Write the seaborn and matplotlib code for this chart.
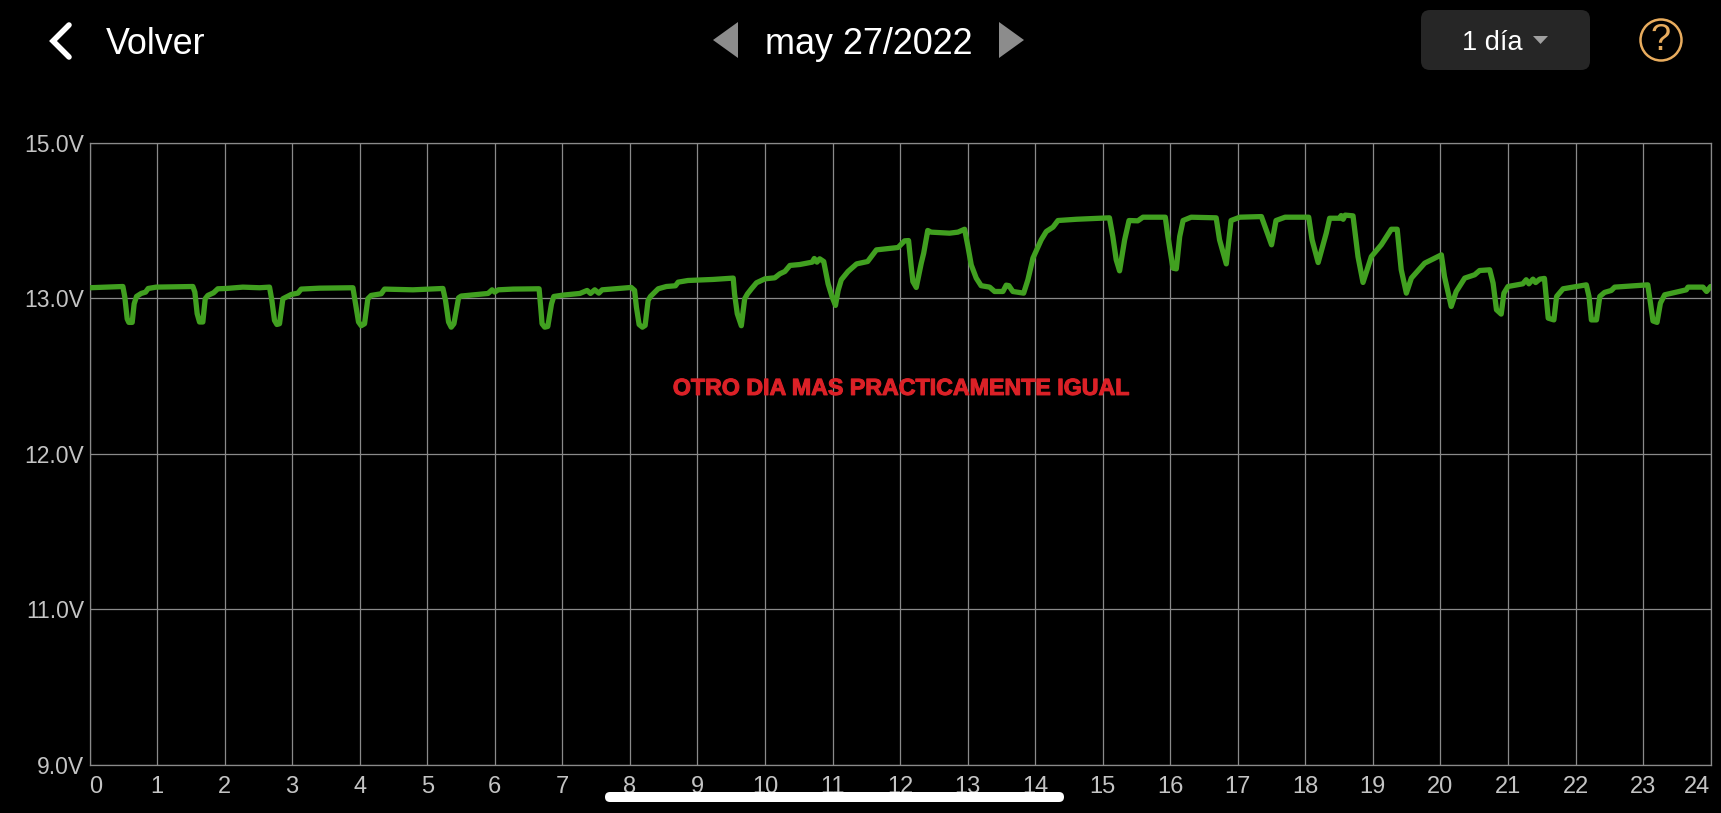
import matplotlib
matplotlib.use("Agg")
import matplotlib.pyplot as plt
from matplotlib.patches import FancyBboxPatch, Polygon, Circle
import matplotlib.patheffects as pe
import pandas as pd
import seaborn as sns

hours = [0,.494,.523,.558,.582,.632,.661,.696,.765,.83,.869,.987,1.283,1.53,1.56,1.594,1.629,1.678,1.713,1.752,1.836,1.90,2.024,2.27,2.517,2.665,2.70,2.739,2.774,2.813,2.863,2.986,3.085,3.134,3.406,3.90,3.939,3.983,4.023,4.072,4.121,4.17,4.319,4.368,4.788,5.232,5.271,5.316,5.355,5.395,5.464,5.503,
5.90,5.96,6.0,6.05,6.27,6.656,6.68,6.70,6.74,6.785,6.84,6.874,7.01,7.26,7.367,7.417,7.48,7.54,7.59,8.02,8.07,8.097,8.137,8.186,8.226,8.27,8.305,8.42,8.54,8.675,8.715,8.86,9.23,9.53,9.55,9.59,9.65,9.70,9.74,9.80,9.875,10.0,10.146,10.22,10.295,10.37,10.516,10.70,10.73,10.77,10.81,10.87,10.935,10.995,11.044,11.083,11.13,11.23,11.357,11.52,11.65,11.97,
12.067,12.126,12.165,12.19,12.24,12.314,12.35,12.41,12.46,12.733,12.857,12.956,13.005,13.054,13.128,13.2,13.326,13.40,13.523,13.572,13.612,13.67,13.83,13.893,13.967,14.09,14.165,14.264,14.338,14.61,15.10,15.15,15.20,15.25,15.325,15.39,15.52,15.596,15.927,15.966,16.04,16.09,16.14,16.19,16.31,16.68,16.73,16.83,16.90,17.03,17.35,17.50,17.566,17.70,
18.05,18.10,18.19,18.31,18.36,18.51,18.53,18.56,18.59,18.706,18.78,18.854,18.977,19.125,19.273,19.36,19.42,19.496,19.57,19.767,20.014,20.06,20.16,20.234,20.36,20.507,20.58,20.73,20.78,20.83,20.90,20.94,21.0,21.22,21.27,21.31,21.37,21.41,21.47,21.54,21.57,21.596,21.68,21.72,21.816,22.16,22.2,22.235,22.31,22.36,22.43,22.53,22.58,23.07,23.11,23.147,23.207,23.257,23.32,23.64,23.665,23.887,23.94,24.0]
volts = [13.60,13.612,13.51,13.30,13.266,13.266,13.445,13.516,13.545,13.558,13.593,13.606,13.609,13.612,13.558,13.35,13.27,13.27,13.494,13.526,13.551,13.59,13.593,13.606,13.60,13.606,13.478,13.285,13.246,13.253,13.494,13.535,13.548,13.587,13.596,13.60,13.445,13.27,13.234,13.253,13.494,13.526,13.542,13.587,13.58,13.593,13.478,13.27,13.22,13.253,13.503,13.52,
13.545,13.58,13.558,13.58,13.587,13.59,13.413,13.253,13.22,13.227,13.445,13.516,13.529,13.545,13.574,13.545,13.58,13.548,13.58,13.603,13.574,13.413,13.246,13.22,13.237,13.478,13.516,13.59,13.612,13.619,13.654,13.67,13.68,13.693,13.54,13.35,13.234,13.494,13.54,13.59,13.648,13.686,13.696,13.734,13.757,13.815,13.824,13.847,13.882,13.847,13.879,13.853,13.638,13.51,13.43,13.574,13.677,13.757,13.83,13.853,13.965,13.988,
14.052,14.055,13.805,13.66,13.603,13.837,13.933,14.152,14.136,14.126,14.136,14.164,13.998,13.82,13.693,13.62,13.606,13.564,13.564,13.625,13.62,13.564,13.548,13.677,13.885,14.062,14.142,14.184,14.248,14.26,14.274,14.094,13.87,13.763,14.062,14.248,14.245,14.28,14.28,14.094,13.789,13.782,14.094,14.248,14.28,14.274,14.062,13.83,14.248,14.28,14.286,14.014,14.248,14.28,
14.28,14.062,13.843,14.126,14.27,14.27,14.296,14.26,14.30,14.293,13.90,13.651,13.90,14.014,14.164,14.164,13.773,13.548,13.693,13.837,13.917,13.709,13.42,13.564,13.693,13.725,13.766,13.773,13.644,13.388,13.346,13.548,13.612,13.638,13.677,13.638,13.683,13.65,13.683,13.69,13.484,13.307,13.29,13.516,13.59,13.628,13.516,13.29,13.29,13.516,13.555,13.574,13.606,13.628,13.452,13.28,13.266,13.452,13.532,13.58,13.606,13.606,13.564,13.612]
hour_ticks = list(range(25))
volt_ticks = [15.0, 13.5, 12.0, 10.5, 9.0]
volt_labels = ["15.0V", "13.0V", "12.0V", "11.0V", "9.0V"]
annotation = "OTRO DIA MAS PRACTICAMENTE IGUAL"
date_label = "may 27/2022"

W, H = 1721, 813
sns.set_theme(style="dark")
plt.rcParams["font.family"] = ["Liberation Sans", "DejaVu Sans"]
fig = plt.figure(figsize=(W / 100, H / 100), dpi=100, facecolor="black")

L, R, T, B = 89.5, 1710.6, 142.5, 765
ax = fig.add_axes([L / W, 1 - B / H, (R - L) / W, (B - T) / H], facecolor="black")
df = pd.DataFrame({"hour": hours, "volt": volts})
sns.lineplot(data=df, x="hour", y="volt", ax=ax, estimator=None, sort=False,
             color="#41A020", linewidth=3.8, zorder=5, solid_joinstyle="round")
ax.set_xlim(0, 24)
ax.set_ylim(9, 15)
ax.set_xticks(hour_ticks)
ax.set_xticklabels([str(h) for h in hour_ticks])
ax.set_yticks(volt_ticks)
ax.set_yticklabels(volt_labels)
ax.set_xlabel("")
ax.set_ylabel("")
ax.grid(True, color="#8a8a8a", linewidth=0.9)
ax.set_axisbelow(True)
for s in ax.spines.values():
    s.set_color("#8a8a8a")
    s.set_linewidth(0.9)
ax.tick_params(axis="both", length=0, colors="#c4c4c4")
ax.tick_params(axis="x", labelsize=17, pad=8)
ax.tick_params(axis="y", labelsize=16.5, pad=4)
xl = ax.get_xticklabels()
xl[0].set_ha("left")
xl[-1].set_ha("right")
ax.text(12.0, 12.63, annotation, color="#DB2127", fontsize=16.7, fontweight="bold",
        ha="center", va="center", zorder=6,
        path_effects=[pe.withStroke(linewidth=0.8, foreground="#DB2127")])

# App chrome in pixel coordinates
ui = fig.add_axes([0, 0, 1, 1], facecolor="none")
ui.set_xlim(0, W)
ui.set_ylim(H, 0)
ui.axis("off")
ui.plot([69, 53, 69], [25, 41, 57], color="white", lw=4, solid_capstyle="round", solid_joinstyle="miter")
ui.text(106, 44, "Volver", color="white", fontsize=25.8, ha="left", va="center")
ui.add_patch(Polygon([[738, 22], [713, 40], [738, 58]], closed=True, fc="#8c8c8c", ec="none"))
ui.add_patch(Polygon([[999, 22], [1024, 40], [999, 58]], closed=True, fc="#8c8c8c", ec="none"))
ui.text(869, 44, date_label, color="white", fontsize=25.9, ha="center", va="center")
ui.add_patch(FancyBboxPatch((1429, 18), 153, 44, boxstyle="round,pad=8,rounding_size=9", fc="#262626", ec="none"))
ui.text(1492, 43, "1 día", color="white", fontsize=19.5, ha="center", va="center")
ui.add_patch(Polygon([[1533, 36], [1548, 36], [1540.5, 44]], closed=True, fc="#a0a0a0", ec="none"))
ui.add_patch(Circle((1661, 40), 20.5, fc="none", ec="#E8AC5E", lw=1.8))
ui.text(1661, 41, "?", color="#E8AC5E", fontsize=26, ha="center", va="center")
ui.add_patch(FancyBboxPatch((610, 797), 449, 0, boxstyle="round,pad=5,rounding_size=5", fc="white", ec="none", zorder=10))

fig.savefig("out.png", dpi=100, facecolor="black")
